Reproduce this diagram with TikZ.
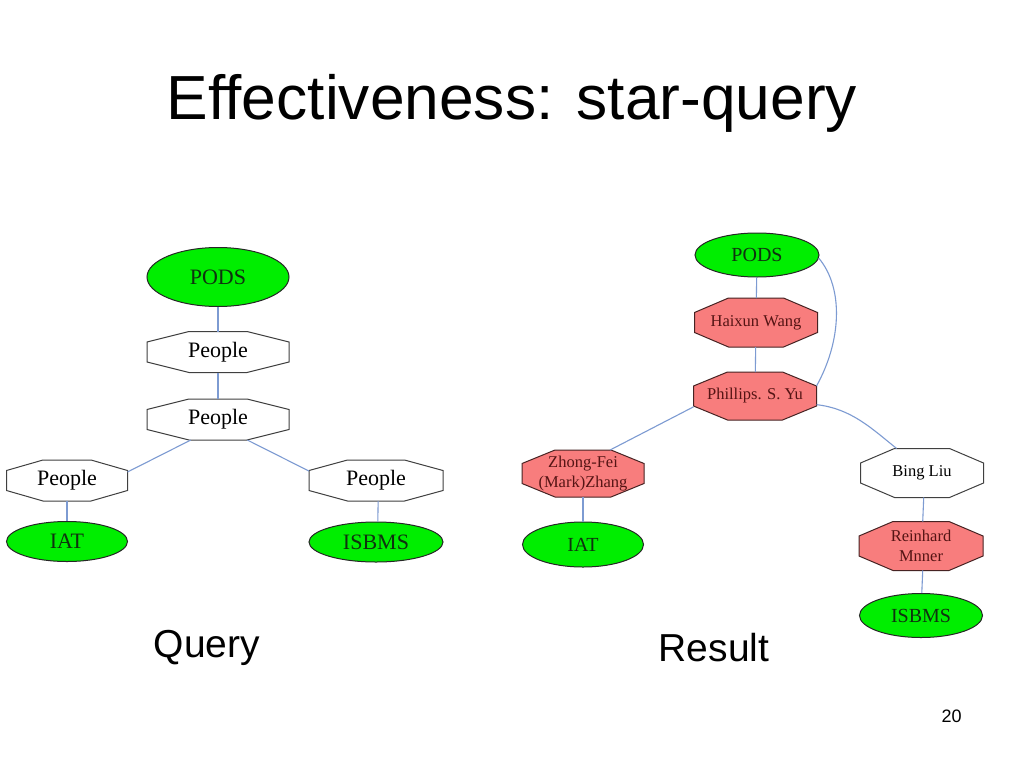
\documentclass[tikz,border=0pt]{standalone}
\usepackage{fontspec}
\setmainfont{Liberation Serif}
\newfontfamily\arialf{Liberation Sans}
\usetikzlibrary{shapes.geometric,calc}
\definecolor{gfill}{RGB}{0,238,0}
\definecolor{sfill}{RGB}{248,125,125}
\definecolor{ecol}{RGB}{125,155,210}
\definecolor{dred}{RGB}{85,20,20}
\definecolor{sbord}{RGB}{70,35,35}
\definecolor{gtext}{RGB}{15,50,15}
\pgfdeclarelayer{back}
\pgfdeclarelayer{octs}
\pgfsetlayers{back,octs,main}
% octagon outline behind a rectangular node: name, chamfer x, chamfer y, style
\newcommand\octbg[4]{%
  \begin{pgfonlayer}{octs}
  \draw[#4] ($(#1.north west)+(#2,0)$) -- ($(#1.north east)+(-#2,0)$)
    -- ($(#1.north east)+(0,#3)$) -- ($(#1.south east)+(0,-#3)$)
    -- ($(#1.south east)+(-#2,0)$) -- ($(#1.south west)+(#2,0)$)
    -- ($(#1.south west)+(0,-#3)$) -- ($(#1.north west)+(0,#3)$) -- cycle;
  \end{pgfonlayer}}
\begin{document}
\begin{tikzpicture}[x=1pt,y=-1pt,
  greenell/.style={ellipse, draw=black!85, fill=gfill, line width=1pt, inner sep=0pt, text=gtext},
  octa/.style={rectangle, inner sep=0pt, outer sep=0pt, align=center},
  whiteocta/.style={octa, text=black},
  redocta/.style={octa, text=dred},
  whiteline/.style={draw=black!75, fill=white, line width=1pt},
  redline/.style={draw=sbord, fill=sfill, line width=1pt},
  bigtxt/.style={font=\fontsize{22}{24}\selectfont},
  midtxt/.style={font=\fontsize{20}{22}\selectfont},
  smalltxt/.style={font=\fontsize{16.5}{20}\selectfont},
  conn/.style={draw=ecol, line width=1.1pt},
  label/.style={anchor=base, inner sep=0pt}
]
\useasboundingbox (0,0) rectangle (1024,768);
\begin{pgfonlayer}{back}
\fill[white] (0,0) rectangle (1024,768);
\end{pgfonlayer}

% titles and labels
\node[label, font=\arialf\fontsize{62.3}{70}\selectfont] (title) at (512,119) {Effectiveness: star-query};
\node[label, font=\arialf\fontsize{39}{44}\selectfont] (qlab) at (207,657) {Query};
\node[label, font=\arialf\fontsize{39}{44}\selectfont] (rlab) at (714,661) {Result};
\node[label, font=\arialf\fontsize{18}{20}\selectfont] (pnum) at (951.5,722) {20};

% Query graph
\node[greenell, bigtxt, minimum width=142pt, minimum height=59pt] (lp) at (218,277) {PODS};
\node[whiteocta, bigtxt, minimum width=142pt, minimum height=41pt] (q1) at (218,352) {People};
\node[whiteocta, bigtxt, minimum width=142pt, minimum height=41pt] (q2) at (218,419.5) {People};
\node[whiteocta, bigtxt, minimum width=121pt, minimum height=41pt] (ql) at (67,480.5) {People};
\node[whiteocta, bigtxt, minimum width=134pt, minimum height=41pt] (qr) at (376,480.5) {People};
\node[greenell, bigtxt, minimum width=121pt, minimum height=40pt] (la) at (67,541.5) {IAT};
\node[greenell, bigtxt, minimum width=134pt, minimum height=40pt] (ls) at (376,542) {ISBMS};
\octbg{q1}{42}{10.5}{whiteline}
\octbg{q2}{42}{10.5}{whiteline}
\octbg{ql}{36.5}{10.5}{whiteline}
\octbg{qr}{38.5}{10.5}{whiteline}

\draw[conn] (lp) -- (q1);
\draw[conn] (q1) -- (q2);
\draw[conn] (q2.-143) -- (ql.8);
\draw[conn] (q2.-35) -- (qr.172);
\draw[conn] (ql) -- (la);
\draw[conn] (qr.-84) -- (ls.85);

% Result graph
\node[greenell, midtxt, minimum width=124pt, minimum height=44pt] (rp) at (757,255) {PODS};
\node[redocta, smalltxt, minimum width=123pt, minimum height=49pt] (hw) at (756,322.5) {Haixun Wang};
\node[redocta, smalltxt, minimum width=123pt, minimum height=48pt] (py) at (755,396) {Phillips. S. Yu};
\node[redocta, smalltxt, minimum width=122pt, minimum height=47pt] (zf) at (583,473.5) {Zhong-Fei\\(Mark)Zhang};
\node[greenell, midtxt, minimum width=121pt, minimum height=45pt] (ra) at (583,544.5) {IAT};
\node[whiteocta, smalltxt, minimum width=123pt, minimum height=49pt] (bl) at (922,473) {Bing Liu};
\node[redocta, smalltxt, minimum width=124pt, minimum height=49pt] (rm) at (921,546) {Reinhard\\Mnner};
\node[greenell, midtxt, minimum width=123pt, minimum height=44pt] (rs) at (921,615.5) {ISBMS};
\octbg{hw}{34}{14.5}{redline}
\octbg{py}{34}{14}{redline}
\octbg{zf}{33}{13.5}{redline}
\octbg{bl}{34}{14.5}{whiteline}
\octbg{rm}{34}{14.5}{redline}

\draw[conn] (rp) -- (hw);
\draw[conn] (hw) -- (py);
\draw[conn] (rp.-3) .. controls +(25,30) and +(25,-45) .. ([yshift=10pt]py.east);
\draw[conn] (py.190) -- (zf.41);
\draw[conn] (py.-8) .. controls +(35,4) and +(-25,-20) .. (bl.136);
\draw[conn] (zf) -- (ra);
\draw[conn] (bl.-86) -- (rm.86);
\draw[conn] (rm.-86) -- (rs.88);
\end{tikzpicture}
\end{document}
